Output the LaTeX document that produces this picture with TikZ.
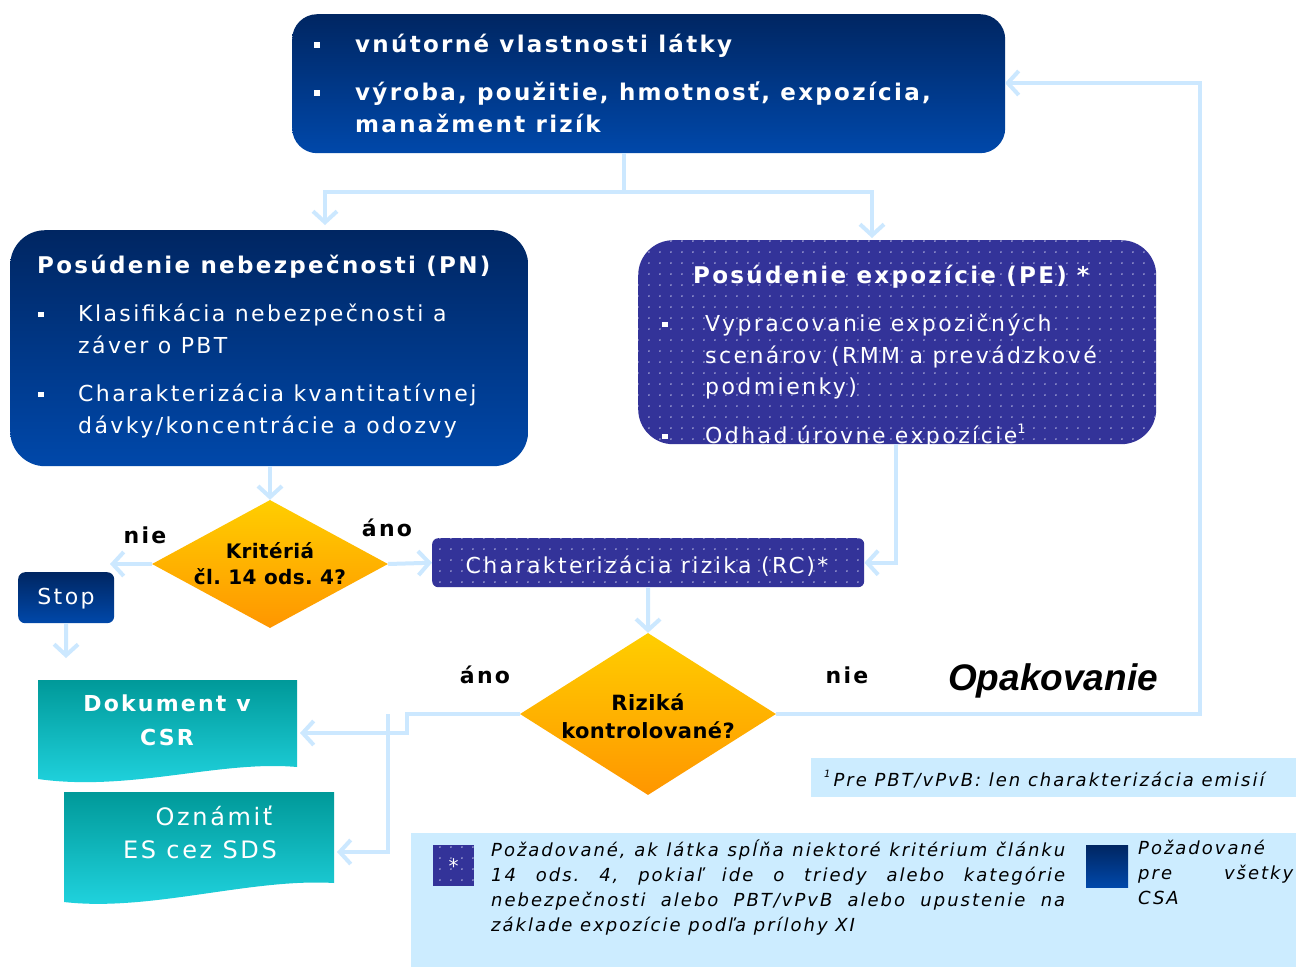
\documentclass[tikz,border=0pt]{standalone}
\usepackage{fontspec}
\setmainfont{DejaVu Sans}
\newfontfamily\vf[LetterSpace=10]{DejaVu Sans}
\newfontfamily\vfr[LetterSpace=11]{DejaVu Sans}
\newfontfamily\vfl[LetterSpace=11]{DejaVu Sans}
\newfontfamily\vfn[LetterSpace=2]{DejaVu Sans}
\newfontfamily\arialf{Liberation Sans}
\usetikzlibrary{shapes.geometric,arrows.meta,patterns.meta,calc}
\frenchspacing
\definecolor{navyA}{RGB}{0,38,98}
\definecolor{navyB}{RGB}{0,72,170}
\definecolor{pecol}{RGB}{51,51,153}
\definecolor{dotcol}{RGB}{165,165,215}
\definecolor{orA}{RGB}{255,206,0}
\definecolor{orB}{RGB}{255,150,0}
\definecolor{tealA}{RGB}{0,153,153}
\definecolor{tealB}{RGB}{34,214,226}
\definecolor{conncol}{RGB}{204,232,255}
\definecolor{legbg}{RGB}{204,236,255}
\tikzdeclarepattern{name=sdots, type=uncolored, bottom left={(-1pt,-1pt)}, top right={(10pt,10pt)}, tile size={(11pt,11pt)}, code={\fill (0pt,0pt) circle (1pt);}}
\newcommand\sqb{\rule[0.18em]{0.25em}{0.25em}}
\begin{document}
\frenchspacing
\begin{tikzpicture}[x=1pt,y=-1pt,
  navybox/.style={draw=none, inner sep=0pt, top color=navyA, bottom color=navyB, anchor=north west},
  pebox/.style={draw=none, inner sep=0pt, fill=pecol, postaction={pattern=sdots, pattern color=dotcol}, anchor=north west},
  dia/.style={diamond, draw=none, inner sep=0pt, top color=orA, bottom color=orB},
  wb/.style={text=white, font=\vf\bfseries\fontsize{23}{28}\selectfont, inner sep=0pt},
  wr/.style={text=white, font=\vfr\fontsize{22}{32}\selectfont, inner sep=0pt},
  lbl/.style={text=black, font=\vf\bfseries\fontsize{22}{26}\selectfont, inner sep=0pt},
  dtx/.style={text=black, font=\vfn\bfseries\fontsize{20}{26}\selectfont, inner sep=0pt, align=center},
  cline/.style={draw=conncol, line width=4pt},
  carrow/.style={cline, -{Straight Barb[length=11pt,width=24pt]}},
  docshape/.style={draw=none, top color=tealA, bottom color=tealB},
  leg/.style={text=black, font=\vfl\itshape\fontsize{18}{25}\selectfont\frenchspacing, inner sep=0pt}
]
\useasboundingbox (0,0) rectangle (1296,967);
\fill[white] (0,0) rectangle (1296,967);

% legend boxes
\node[fill=legbg, draw=none, inner sep=0pt, minimum width=485pt, minimum height=39pt, anchor=north west] (foot) at (811,758) {};
\node[leg, anchor=base west] (foottxt) at (824,786) {\raisebox{0.5em}{\fontsize{10}{10}\selectfont 1}\,Pre PBT/vPvB: len charakterizácia emisií};
\node[fill=legbg, draw=none, inner sep=0pt, minimum width=885pt, minimum height=134pt, anchor=north west] (legend) at (411,833) {};
\node[pebox, minimum width=41pt, minimum height=41pt] (legico) at (433,845) {};
\node[text=white, font=\fontsize{20}{20}\selectfont] (legstar) at (legico.center) {*};
\node[leg, anchor=north west, text width=574pt, align=justify] (legtxt) at (491,840) {Požadované, ak látka spĺňa niektoré kritérium článku\linebreak 14 ods. 4, pokiaľ ide o triedy alebo kategórie\linebreak nebezpečnosti alebo PBT/vPvB alebo upustenie na\linebreak základe expozície podľa prílohy XI};
\node[navybox, minimum width=42pt, minimum height=42pt] (legnavy) at (1086,845) {};
\node[leg, anchor=north west, text width=155pt, align=left] (legtxt2) at (1138,840) {Požadované\\ pre\hfill všetky\\ CSA};

% top box
\node[navybox, rounded corners=25pt, minimum width=713pt, minimum height=139pt] (top) at (292,14) {};
\node[wb, anchor=base west] (tb1) at (314,52) {\sqb};
\node[wb, anchor=base west] (t1) at (355,52) {vnútorné vlastnosti látky};
\node[wb, anchor=base west] (tb2) at (314,100) {\sqb};
\node[wb, anchor=base west] (t2) at (355,100) {výroba, použitie, hmotnosť, expozícia,};
\node[wb, anchor=base west] (t3) at (355,132) {manažment rizík};

% PN box
\node[navybox, rounded corners=35pt, minimum width=518pt, minimum height=236pt] (pn) at (10,230) {};
\node[wb, anchor=base west] (pnt) at (37,273) {Posúdenie nebezpečnosti (PN)};
\node[wr, anchor=base west] (pnb1) at (38,321) {\sqb};
\node[wr, anchor=base west] (pn1) at (78,321) {Klasifikácia nebezpečnosti a};
\node[wr, anchor=base west] (pn2) at (78,353) {záver o PBT};
\node[wr, anchor=base west] (pnb2) at (38,401) {\sqb};
\node[wr, anchor=base west] (pn3) at (78,401) {Charakterizácia kvantitatívnej};
\node[wr, anchor=base west] (pn4) at (78,433) {dávky/koncentrácie a odozvy};

% PE box
\node[pebox, rounded corners=35pt, minimum width=518pt, minimum height=204pt] (pe) at (638,240) {};
\node[wb, anchor=base west] (pet) at (693,283) {Posúdenie expozície (PE) *};
\node[wr, anchor=base west] (peb1) at (662,331) {\sqb};
\node[wr, anchor=base west] (pe1) at (705,331) {Vypracovanie expozičných};
\node[wr, anchor=base west] (pe2) at (705,363) {scenárov (RMM a prevádzkové};
\node[wr, anchor=base west] (pe3) at (705,394) {podmienky)};
\node[wr, anchor=base west] (peb2) at (662,443) {\sqb};
\node[wr, anchor=base west] (pe4) at (705,443) {Odhad úrovne expozície\raisebox{0.45em}{\fontsize{13}{13}\selectfont 1}};

% diamond 1
\node[dia, minimum width=236pt, minimum height=128pt] (d1) at (270,564) {};
\node[dtx] (d1t) at (270,564) {Kritériá\\čl. 14 ods. 4?};
\node[lbl] (nie1) at (145,535) {nie};
\node[lbl] (ano1) at (387,528) {áno};

% stop
\node[navybox, rounded corners=7pt, minimum width=96pt, minimum height=51pt] (stop) at (18,572) {};
\node[wr] (stopt) at (66,599) {Stop};

% RC
\node[pebox, rounded corners=6pt, minimum width=432pt, minimum height=49pt] (rc) at (432,538) {};
\node[wr] (rct) at (647,566) {Charakterizácia rizika (RC)*};

% diamond 2
\node[dia, minimum width=256pt, minimum height=162pt] (d2) at (648,714) {};
\node[dtx, font=\vfn\bfseries\fontsize{21}{28}\selectfont] (d2t) at (648,716) {Riziká\\kontrolované?};
\node[lbl] (ano2) at (485,675) {áno};
\node[lbl] (nie2) at (847,675) {nie};
\node[font=\arialf\bfseries\itshape\fontsize{37}{40}\selectfont, inner sep=0pt] (opak) at (1053,681) {Opakovanie};

% documents
\path[docshape] (38,680) -- (297,680) -- (297,767) .. controls (220,760) and (130,792) .. (38,779) -- cycle;
\node[wb, align=center, font=\vf\bfseries\fontsize{22}{34}\selectfont] (doc1) at (167,720) {Dokument v\\CSR};
\path[docshape] (64,792) -- (334,792) -- (334,883) .. controls (250,878) and (150,912) .. (64,902) -- cycle;
\node[wr, align=center, font=\vfr\fontsize{24}{33}\selectfont] (doc2) at (200,832) {\hspace*{28pt}Oznámiť\\ES cez SDS};

% connectors
\coordinate (split) at (624,192);
\coordinate (pnin) at (325,225);
\coordinate (pein) at (872,238);
\draw[cline] (624,153) -- (split);
\draw[carrow] (split) -| (pnin);
\draw[carrow] (split) -| (pein);
\draw[carrow] (pn.south -| d1.north) -- (d1.north);
\coordinate (stopin) at (110,564);
\draw[carrow] (d1.west) -- (stopin);
\coordinate (stopout) at (66,658);
\draw[carrow] (stop.south) -- (stopout);
\draw[carrow] (d1.east) -- (rc.west);
\coordinate (pedown) at (896,444);
\draw[carrow] (pedown) |- (rc.east);
\draw[carrow] (rc.south) -- (d2.north);
\coordinate (loopR) at (1200,714);
\coordinate (topin) at (1005,83);
\draw[carrow] (d2.east) -- (loopR) |- (topin);
\coordinate (bendA) at (407,714);
\coordinate (doc1in) at (300,733);
\draw[carrow] (d2.west) -- (bendA) |- (doc1in);
\coordinate (bendB) at (388,714);
\coordinate (doc2in) at (337,852);
\draw[carrow] (bendB) |- (doc2in);
\end{tikzpicture}
\end{document}
